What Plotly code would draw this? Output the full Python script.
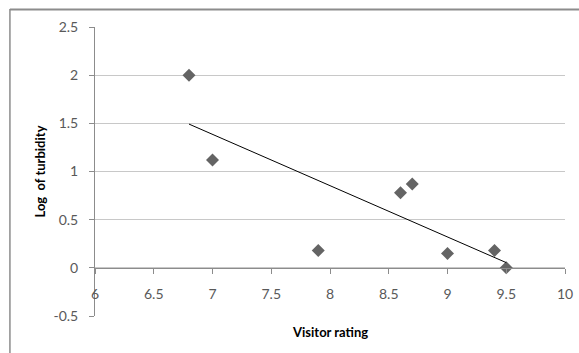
import numpy as np
import plotly.graph_objects as go

visitor_rating = [6.8, 7.0, 7.9, 8.6, 8.7, 9.0, 9.4, 9.5]
log_turbidity = [2.0, 1.12, 0.18, 0.78, 0.87, 0.15, 0.18, 0.0]

x_ticks = [6, 6.5, 7, 7.5, 8, 8.5, 9, 9.5, 10]
y_ticks = [-0.5, 0, 0.5, 1, 1.5, 2, 2.5]

slope, intercept = np.polyfit(visitor_rating, log_turbidity, 1)
trend_x = [min(visitor_rating), max(visitor_rating)]
trend_y = [slope * v + intercept for v in trend_x]

FONT = "Lato"

fig = go.Figure()
fig.add_trace(go.Scatter(
    x=visitor_rating, y=log_turbidity, mode="markers",
    marker=dict(symbol="diamond", size=10, color="#646464"),
    showlegend=False, hoverinfo="skip", cliponaxis=False))
fig.add_trace(go.Scatter(
    x=trend_x, y=trend_y, mode="lines",
    line=dict(color="#000000", width=1),
    showlegend=False, hoverinfo="skip"))

fig.update_layout(
    width=579, height=353,
    margin=dict(l=95, r=14, t=27, b=37, autoexpand=False),
    paper_bgcolor="white", plot_bgcolor="white",
    font=dict(family=FONT, size=14, color="#595959"),
    xaxis=dict(
        range=[6, 10], tickvals=x_ticks, ticktext=[f"{t:g}" for t in x_ticks],
        showgrid=False, zeroline=False, automargin=False,
        showline=True, linecolor="#8c8c8c", linewidth=1,
        ticks="outside", ticklen=5, tickcolor="#8c8c8c",
        ticklabelstandoff=8, ticklabeloverflow="allow",
        anchor="free", position=1/6,
        tickfont=dict(family=FONT, size=14, color="#595959"),
    ),
    yaxis=dict(
        range=[-0.5, 2.5], tickvals=y_ticks, ticktext=[f"{t:g}" for t in y_ticks],
        showgrid=True, gridcolor="#c8c8c8", gridwidth=1,
        zeroline=False, automargin=False,
        showline=True, linecolor="#8c8c8c", linewidth=1,
        ticks="outside", ticklen=5, tickcolor="#8c8c8c",
        ticklabelstandoff=8,
        title=dict(text="<b>Log  of turbidity</b>", standoff=4,
                   font=dict(family=FONT, size=13, color="#000000")),
        tickfont=dict(family=FONT, size=14, color="#595959"),
    ),
    annotations=[dict(
        text="<b>Visitor rating</b>", xref="paper", yref="paper",
        x=0.5, y=-0.022, xanchor="center", yanchor="top", showarrow=False,
        font=dict(family=FONT, size=13, color="#000000"))],
    shapes=[
        dict(type="line", xref="paper", yref="paper",
             x0=-0.181, x1=-0.181, y0=-0.3, y1=1.062,
             line=dict(color="#8c8c8c", width=1.5), layer="above"),
        dict(type="rect", xref="paper", yref="paper",
             x0=-0.181, x1=1.2, y0=1.057, y1=1.064,
             fillcolor="#8c8c8c", line=dict(width=0), layer="above"),
    ],
)

fig.write_html("out.html", config={"displayModeBar": False},
               post_script="document.body.style.margin='0';document.body.style.overflow='hidden';")
